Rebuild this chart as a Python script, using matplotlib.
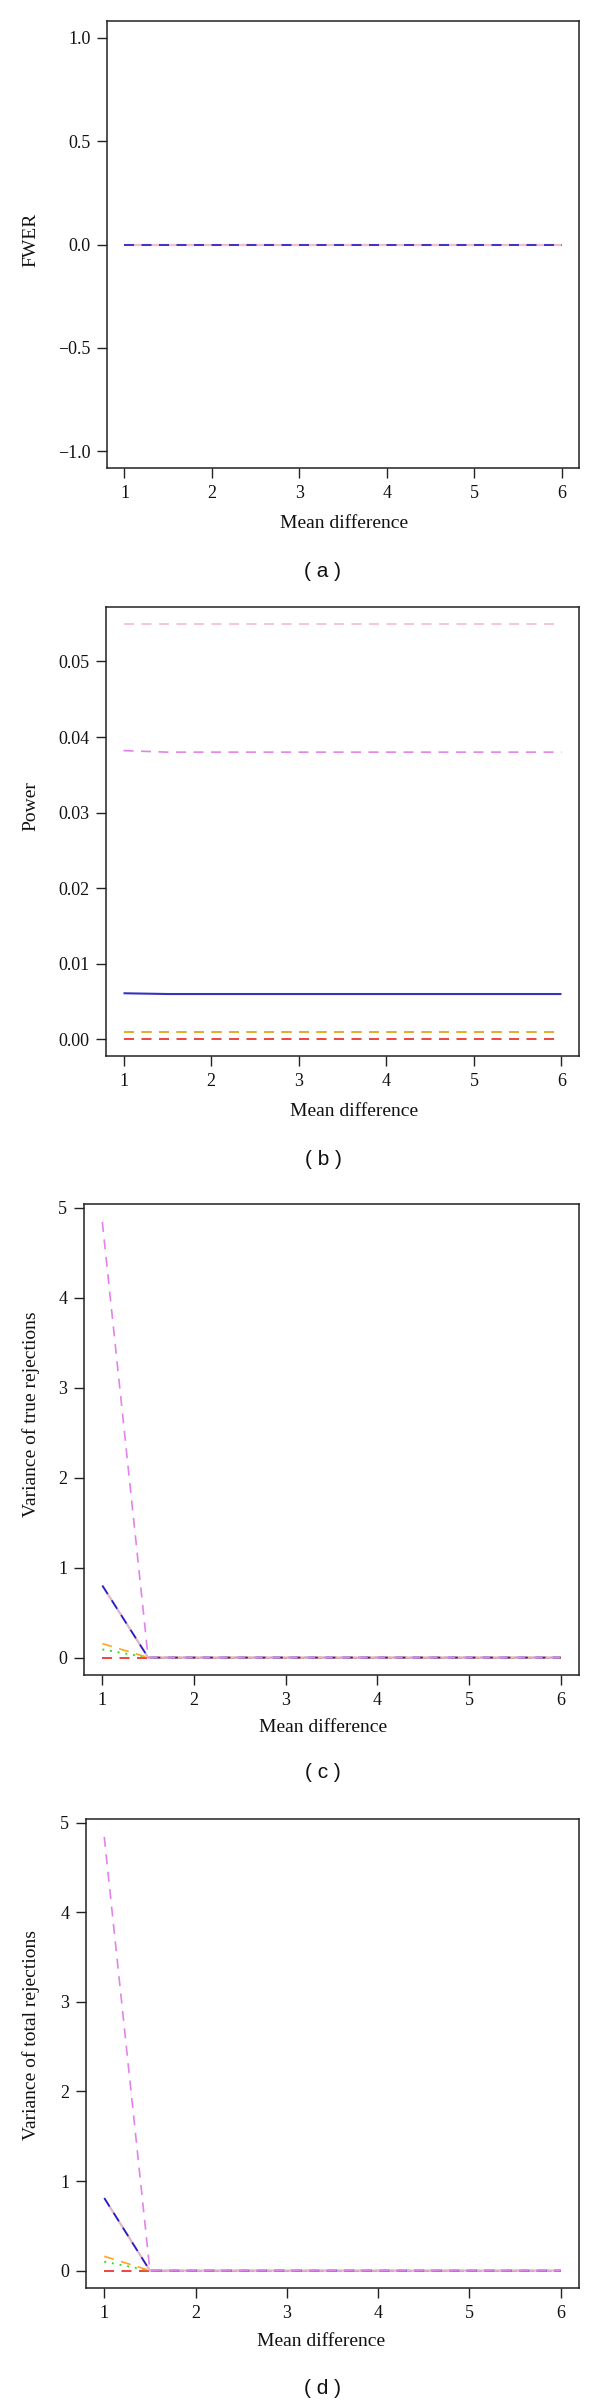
import matplotlib
matplotlib.use("Agg")
import matplotlib.pyplot as plt

W, H = 600, 2405

# ---------------- data ----------------
mean_diff = [1.0, 1.5, 2.0, 2.5, 3.0, 3.5, 4.0, 4.5, 5.0, 5.5, 6.0]

# (a) FWER
fwer_red    = [0, 0, 0, 0, 0, 0, 0, 0, 0, 0, 0]
fwer_orange = [0, 0, 0, 0, 0, 0, 0, 0, 0, 0, 0]
fwer_green  = [0, 0, 0, 0, 0, 0, 0, 0, 0, 0, 0]
fwer_violet = [0, 0, 0, 0, 0, 0, 0, 0, 0, 0, 0]
fwer_pink   = [0, 0, 0, 0, 0, 0, 0, 0, 0, 0, 0]
fwer_blue   = [0, 0, 0, 0, 0, 0, 0, 0, 0, 0, 0]

# (b) Power
pow_red    = [0.0, 0.0, 0.0, 0.0, 0.0, 0.0, 0.0, 0.0, 0.0, 0.0, 0.0]
pow_green  = [0.001, 0.001, 0.001, 0.001, 0.001, 0.001, 0.001, 0.001, 0.001, 0.001, 0.001]
pow_orange = [0.001, 0.001, 0.001, 0.001, 0.001, 0.001, 0.001, 0.001, 0.001, 0.001, 0.001]
pow_blue   = [0.0061, 0.0060, 0.0060, 0.0060, 0.0060, 0.0060, 0.0060, 0.0060, 0.0060, 0.0060, 0.0060]
pow_violet = [0.0382, 0.0380, 0.0380, 0.0380, 0.0380, 0.0380, 0.0380, 0.0380, 0.0380, 0.0380, 0.0380]
pow_pink   = [0.0550, 0.0550, 0.0550, 0.0550, 0.0550, 0.0550, 0.0550, 0.0550, 0.0550, 0.0550, 0.0550]

# (c) Variance of true rejections
vtr_red    = [0.0, 0, 0, 0, 0, 0, 0, 0, 0, 0, 0]
vtr_green  = [0.09, 0, 0, 0, 0, 0, 0, 0, 0, 0, 0]
vtr_orange = [0.155, 0, 0, 0, 0, 0, 0, 0, 0, 0, 0]
vtr_pink   = [0.80, 0, 0, 0, 0, 0, 0, 0, 0, 0, 0]
vtr_blue   = [0.80, 0, 0, 0, 0, 0, 0, 0, 0, 0, 0]
vtr_violet = [4.84, 0, 0, 0, 0, 0, 0, 0, 0, 0, 0]

# (d) Variance of total rejections
vto_red    = [0.0, 0, 0, 0, 0, 0, 0, 0, 0, 0, 0]
vto_green  = [0.10, 0, 0, 0, 0, 0, 0, 0, 0, 0, 0]
vto_orange = [0.16, 0, 0, 0, 0, 0, 0, 0, 0, 0, 0]
vto_pink   = [0.81, 0, 0, 0, 0, 0, 0, 0, 0, 0, 0]
vto_blue   = [0.81, 0, 0, 0, 0, 0, 0, 0, 0, 0, 0]
vto_violet = [4.84, 0, 0, 0, 0, 0, 0, 0, 0, 0, 0]

x_ticks = [1, 2, 3, 4, 5, 6]
a_yticks = [-1.0, -0.5, 0.0, 0.5, 1.0]
b_yticks = [0.00, 0.01, 0.02, 0.03, 0.04, 0.05]
c_yticks = [0, 1, 2, 3, 4, 5]
d_yticks = [0, 1, 2, 3, 4, 5]

# ---------------- style ----------------
C_RED = "#ee2222"
C_ORANGE = "#ffa520"
C_GREEN = "#33dd33"
C_BLUE = "#1c1cc8"
C_VIOLET = "#e482ec"
C_PINK = "#e0b4c8"
C_PINK_LIGHT = "#f4bccc"

SERIF = ["Liberation Serif", "DejaVu Serif"]
SANS = ["Liberation Sans", "DejaVu Sans"]
TICK_FS = 13
LAB_FS = 14

DASH = (6, 4.5)
DOT = (1, 3)
LW = 1.2

fig = plt.figure(figsize=(W / 100, H / 100), dpi=100)


def make_ax(left, right, top, bottom):
    return fig.add_axes([left / W, 1 - bottom / H, (right - left) / W, (bottom - top) / H])


def style(ax, ylim, yticks, yfmt):
    ax.set_xlim(0.8, 6.2)
    ax.set_ylim(*ylim)
    ax.set_xticks(x_ticks)
    ax.set_xticklabels([str(t) for t in x_ticks])
    ax.set_yticks(yticks)
    ax.set_yticklabels([yfmt(t).replace("-", "\u2212") for t in yticks])
    for sp in ax.spines.values():
        sp.set_linewidth(1.1)
        sp.set_color("#222222")
    ax.tick_params(direction="out", length=7, width=1.0, color="#222222",
                   labelsize=TICK_FS, pad=5, top=False, right=False)
    for lab in ax.get_xticklabels() + ax.get_yticklabels():
        lab.set_fontfamily(SERIF)
        lab.set_color("#111111")


def line(ax, y, color, kind="dash", lw=LW):
    if kind == "dash":
        ax.plot(mean_diff, y, color=color, lw=lw, dashes=DASH)
    elif kind == "dot":
        ax.plot(mean_diff, y, color=color, lw=lw, dashes=DOT)
    else:
        ax.plot(mean_diff, y, color=color, lw=lw, solid_capstyle="butt")


def ftext(x, y, s, fam=SERIF, size=LAB_FS, rot=0):
    fig.text(x / W, 1 - y / H, s, ha="center", va="center", rotation=rot,
             fontsize=size, family=fam, color="#111111")


# ---- (a) ----
ax = make_ax(107, 579, 21, 468)
line(ax, fwer_red, C_RED)
line(ax, fwer_orange, C_ORANGE)
line(ax, fwer_green, C_GREEN, "dot")
line(ax, fwer_violet, C_VIOLET)
line(ax, fwer_pink, C_PINK_LIGHT, "solid", 1.6)
line(ax, fwer_blue, C_BLUE)
style(ax, (-1.08, 1.08), a_yticks, lambda t: f"{t:.1f}")
ftext(31, 240, "FWER", rot=90)
ftext(344, 523, "Mean difference")
ftext(323, 571, "( a )", fam=SANS, size=15)

# ---- (b) ----
ax = make_ax(106, 579, 607, 1056)
line(ax, pow_red, C_RED)
line(ax, pow_green, C_GREEN)
line(ax, pow_orange, C_ORANGE)
line(ax, pow_blue, "#3434c4", "solid", 1.5)
line(ax, pow_violet, C_VIOLET)
line(ax, pow_pink, C_PINK_LIGHT)
style(ax, (-0.0022, 0.0572), b_yticks, lambda t: f"{t:.2f}")
ftext(31, 806, "Power", rot=90)
ftext(354, 1112, "Mean difference")
ftext(323, 1159, "( b )", fam=SANS, size=15)

# ---- (c) ----
ax = make_ax(84, 579, 1204, 1675)
line(ax, vtr_red, C_RED)
line(ax, vtr_green, C_GREEN, "dot", 1.4)
line(ax, vtr_orange, C_ORANGE)
line(ax, vtr_pink, C_PINK, "solid", 1.6)
line(ax, vtr_blue, C_BLUE)
line(ax, vtr_violet, C_VIOLET)
style(ax, (-0.194, 5.04), c_yticks, lambda t: f"{t:d}")
ftext(31, 1414, "Variance of true rejections", rot=90)
ftext(323, 1727, "Mean difference")
ftext(323, 1773, "( c )", fam=SANS, size=15)

# ---- (d) ----
ax = make_ax(86, 579, 1819, 2288)
line(ax, vto_red, C_RED)
line(ax, vto_green, C_GREEN, "dot", 1.4)
line(ax, vto_orange, C_ORANGE)
line(ax, vto_pink, C_PINK, "solid", 1.6)
line(ax, vto_blue, C_BLUE)
line(ax, vto_violet, C_VIOLET)
style(ax, (-0.194, 5.04), d_yticks, lambda t: f"{t:d}")
ftext(31, 2035, "Variance of total rejections", rot=90)
ftext(321, 2341, "Mean difference")
ftext(323, 2389, "( d )", fam=SANS, size=15)

fig.savefig("out.png", dpi=100, facecolor="white")
